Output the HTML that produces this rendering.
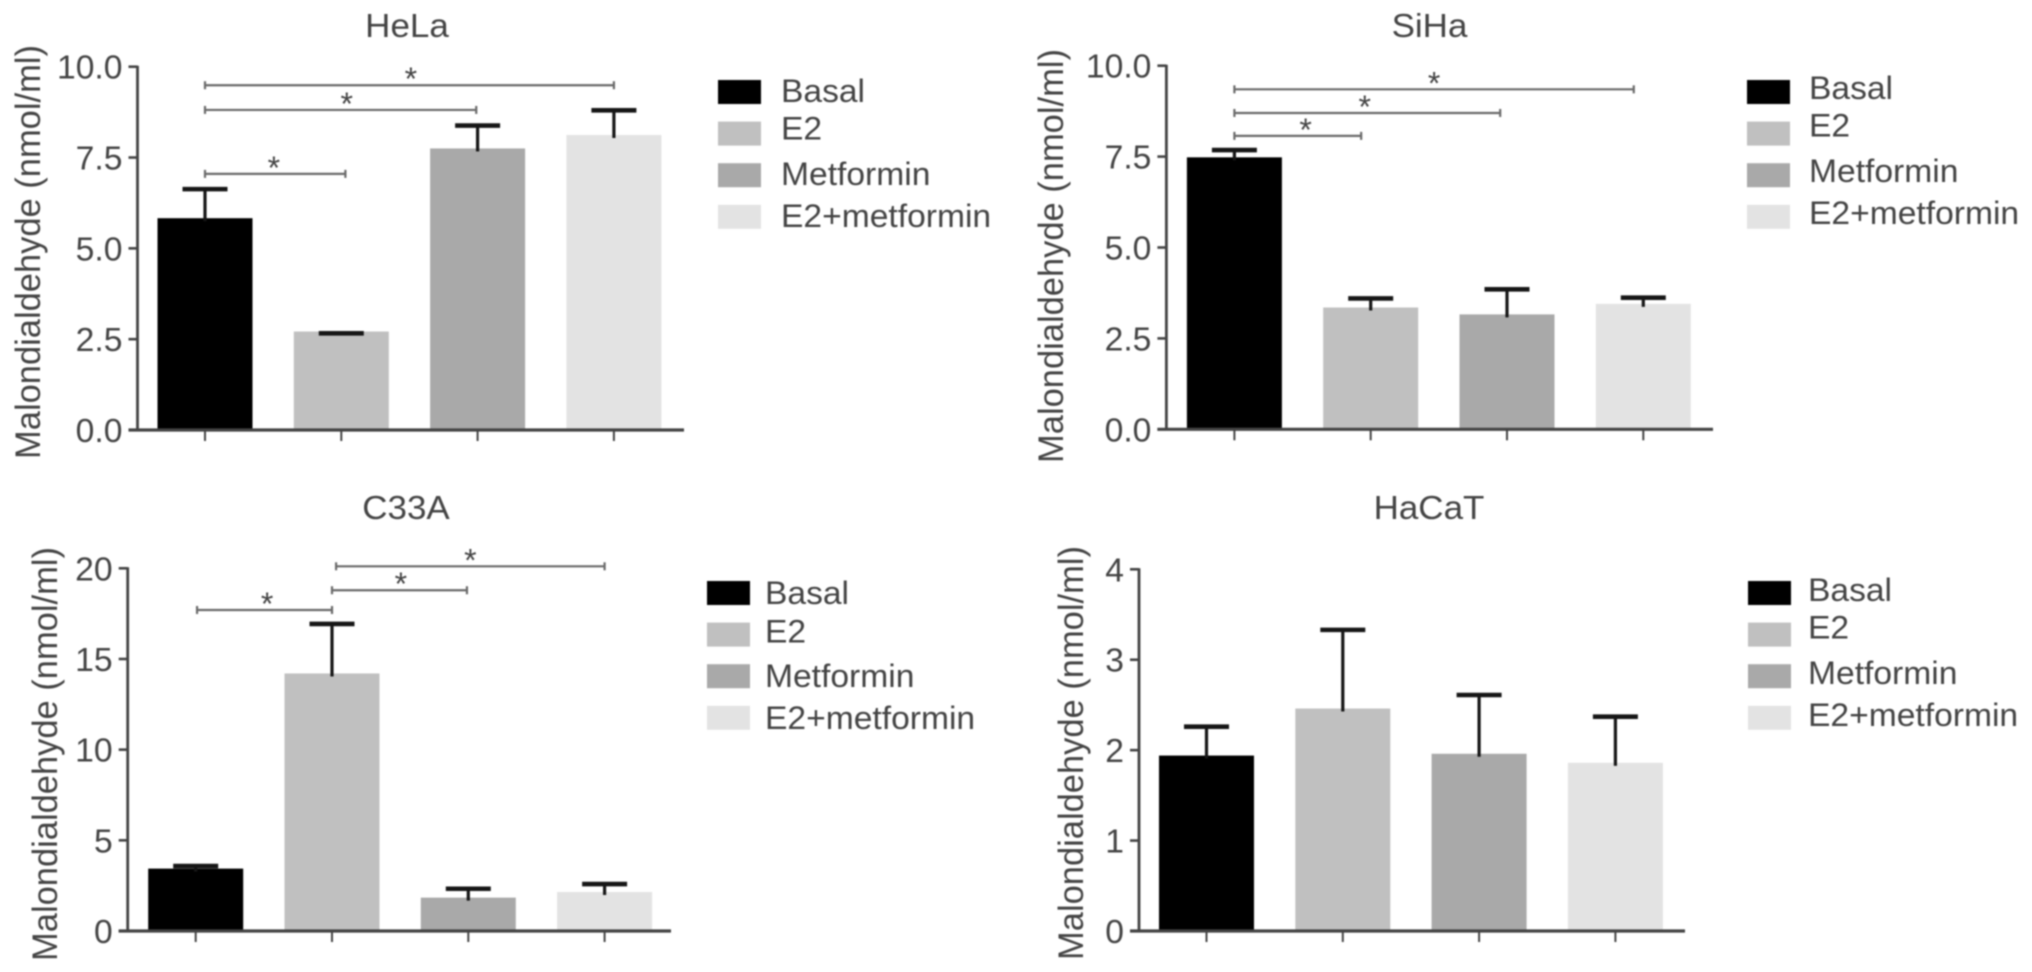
<!DOCTYPE html>
<html lang="en">
<head>
<meta charset="utf-8">
<title>Malondialdehyde levels by cell line</title>
<style>
  html, body { margin: 0; padding: 0; background: #fff; }
  #figure { display: block; width: 2032px; height: 972px; filter: blur(0.85px); }
  text { font-family: "Liberation Sans", Arial, sans-serif; fill: #444; }
</style>
</head>
<body>
<svg id="figure" xmlns="http://www.w3.org/2000/svg" width="2032" height="972" viewBox="0 0 2032 972"></svg>
<script>
const categories = ['Basal', 'E2', 'Metformin', 'E2+metformin'];
const yAxisTitle = 'Malondialdehyde (nmol/ml)';

const helaTicks = ['0.0', '2.5', '5.0', '7.5', '10.0'];
const helaValues = [5.83, 2.71, 7.75, 8.12];
const helaErrorTops = [6.63, 2.66, 8.38, 8.8];
const helaBrackets = [[0, 1.03, 7.05, 0.505], [0, 1.99, 8.81, 1.04], [0, 3.0, 9.49, 1.51]];

const sihaTicks = ['0.0', '2.5', '5.0', '7.5', '10.0'];
const sihaValues = [7.48, 3.35, 3.16, 3.45];
const sihaErrorTops = [7.68, 3.6, 3.85, 3.62];
const sihaBrackets = [[0, 0.93, 8.07, 0.522], [0, 1.95, 8.7, 0.956], [0, 2.93, 9.35, 1.465]];

const c33aTicks = ['0', '5', '10', '15', '20'];
const c33aValues = [3.44, 14.2, 1.84, 2.15];
const c33aErrorTops = [3.58, 16.93, 2.33, 2.59];
const c33aBrackets = [[0.01, 1.0, 17.7, 0.524], [1.0, 1.99, 18.79, 1.505], [1.03, 3.0, 20.11, 2.015]];

const hacatTicks = ['0', '1', '2', '3', '4'];
const hacatValues = [1.94, 2.46, 1.96, 1.86];
const hacatErrorTops = [2.26, 3.33, 2.61, 2.37];
const hacatBrackets = [];

const barColors = ['#000000', '#c0c0c0', '#a9a9a9', '#e3e3e3'];
const NS = 'http://www.w3.org/2000/svg';
const svg = document.getElementById('figure');

function make(parent, tag, attrs, content) {
  const el = document.createElementNS(NS, tag);
  for (const k in attrs) el.setAttribute(k, attrs[k]);
  if (content !== undefined) el.textContent = content;
  parent.appendChild(el);
  return el;
}
function stretch(el, factor) {
  el.setAttribute('textLength', (el.getComputedTextLength() * factor).toFixed(1));
  el.setAttribute('lengthAdjust', 'spacingAndGlyphs');
}

function drawPanel(p) {
  const g = make(svg, 'g', {});
  
  

  const maxTick = parseFloat(p.ticks[p.ticks.length - 1]);
  const yOf = v => p.y0 - (v / maxTick) * (p.y0 - p.yTop);
  const xOf = i => p.x0 + i * 136.3;

  const title = make(g, 'text', { x: p.titleX, y: p.titleY, 'text-anchor': 'middle', 'font-size': 33 }, p.title);
  
  
  stretch(title, 1.06);

  const yTitle = make(g, 'text', {
    transform: 'translate(' + p.yTitleX + ',' + p.yTitleMid + ') rotate(-90)',
    'text-anchor': 'middle', 'font-size': 35
  }, yAxisTitle);
  
  
  stretch(yTitle, 0.985);

  categories.forEach((name, i) => {
    const bar = make(g, 'rect', {
      x: xOf(i) - 47.5, y: yOf(p.values[i]), width: 95,
      height: p.y0 - yOf(p.values[i]), fill: barColors[i]
    });
    
    
  });

  categories.forEach((name, i) => {
    const top = yOf(p.errorTops[i]);
    const bottom = yOf(p.values[i]) + 3;
    const err = make(g, 'g', { stroke: '#161616', fill: 'none' });
    
    
    if (bottom > top) {
      make(err, 'line', { x1: xOf(i), x2: xOf(i), y1: top, y2: bottom, 'stroke-width': 3.2 });
    }
    make(err, 'line', { x1: xOf(i) - 22.5, x2: xOf(i) + 22.5, y1: top, y2: top, 'stroke-width': 4.6 });
  });

  const axes = make(g, 'g', { stroke: '#444', fill: 'none' });
  
  
  make(axes, 'line', { x1: p.axisX, x2: p.axisX, y1: p.yTop - 1, y2: p.y0 + 1, 'stroke-width': 2.8 });
  make(axes, 'line', { x1: p.axisX - 9, x2: p.axisEnd, y1: p.y0, y2: p.y0, 'stroke-width': 3.2 });

  p.ticks.forEach(label => {
    const y = yOf(parseFloat(label));
    make(axes, 'line', { x1: p.axisX - 9, x2: p.axisX, y1: y, y2: y, 'stroke-width': 2.6 });
    const t = make(g, 'text', { x: p.axisX - 15, y: y + 12, 'text-anchor': 'end', 'font-size': 33 }, label);
    
    
    stretch(t, 1.02);
  });
  categories.forEach((name, i) => {
    make(axes, 'line', { x1: xOf(i), x2: xOf(i), y1: p.y0, y2: p.y0 + 11, 'stroke-width': 2 });
  });

  p.brackets.forEach(b => {
    const br = make(g, 'g', { stroke: '#6a6a6a', fill: 'none', 'stroke-width': 2.2 });
    
    
    const a = xOf(b[0]), c = xOf(b[1]), y = yOf(b[2]);
    make(br, 'line', { x1: a, x2: c, y1: y, y2: y });
    make(br, 'line', { x1: a, x2: a, y1: y - 4, y2: y + 4 });
    make(br, 'line', { x1: c, x2: c, y1: y - 4, y2: y + 4 });
    const star = make(g, 'text', { x: xOf(b[3]), y: y + 5, 'text-anchor': 'middle', 'font-size': 32 }, '*');
    
    
  });

  const legend = make(g, 'g', {});
  
  
  categories.forEach((name, i) => {
    const top = p.legendTop + i * 41.6;
    const sw = make(legend, 'rect', { x: p.legendX, y: top, width: 43, height: 24, fill: barColors[i] });
    
    
    const t = make(legend, 'text', {
      x: p.legendX + p.legendGap, y: top + p.legendBase[i], 'font-size': 32
    }, name);
    
    
    stretch(t, 1.05);
  });
}

drawPanel({
  key: 'hela', title: 'HeLa', titleX: 407, titleY: 37,
  ticks: helaTicks, values: helaValues, errorTops: helaErrorTops, brackets: helaBrackets,
  axisX: 137.5, axisEnd: 684, y0: 430, yTop: 66.7, x0: 205,
  yTitleX: 40, yTitleMid: 252,
  legendX: 718, legendGap: 63, legendTop: 80, legendBase: [22, 18, 22, 22]
});
drawPanel({
  key: 'siha', title: 'SiHa', titleX: 1429.5, titleY: 37,
  ticks: sihaTicks, values: sihaValues, errorTops: sihaErrorTops, brackets: sihaBrackets,
  axisX: 1166.4, axisEnd: 1713, y0: 429.3, yTop: 65.7, x0: 1234.4,
  yTitleX: 1063, yTitleMid: 256,
  legendX: 1747, legendGap: 62, legendTop: 80, legendBase: [19, 15, 19, 19]
});
drawPanel({
  key: 'c33a', title: 'C33A', titleX: 406, titleY: 519,
  ticks: c33aTicks, values: c33aValues, errorTops: c33aErrorTops, brackets: c33aBrackets,
  axisX: 127.7, axisEnd: 671, y0: 931, yTop: 568.3, x0: 195.7,
  yTitleX: 57, yTitleMid: 754,
  legendX: 707, legendGap: 58, legendTop: 581, legendBase: [23, 20, 23, 23]
});
drawPanel({
  key: 'hacat', title: 'HaCaT', titleX: 1429, titleY: 519,
  ticks: hacatTicks, values: hacatValues, errorTops: hacatErrorTops, brackets: hacatBrackets,
  axisX: 1139, axisEnd: 1685, y0: 931, yTop: 569.3, x0: 1206.5,
  yTitleX: 1083, yTitleMid: 753,
  legendX: 1748, legendGap: 60, legendTop: 581, legendBase: [20, 16, 20, 20]
});
</script>
</body>
</html>
